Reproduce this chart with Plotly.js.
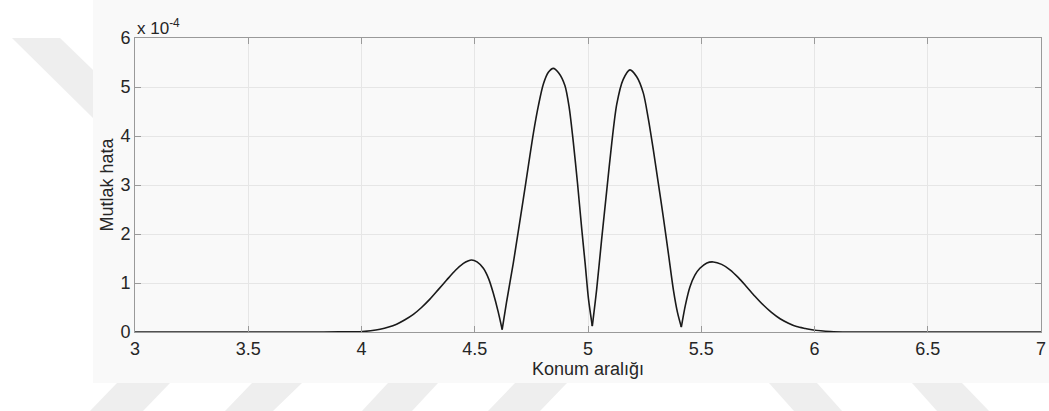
<!DOCTYPE html>
<html>
<head>
<meta charset="utf-8">
<script src="https://cdn.plot.ly/plotly-3.0.1.min.js"></script>
<style>html,body{margin:0;padding:0;background:#fff;}#chart{width:1049px;height:411px;}</style>
</head>
<body>
<div id="chart"></div>
<script>
// Data (x: position, y: absolute error in units of 1e-4)
var xPos = [3.0, 3.5, 3.8, 3.9, 3.993, 4.04, 4.082, 4.12, 4.155, 4.19, 4.229, 4.265, 4.302, 4.34, 4.376, 4.415, 4.45, 4.47, 4.486, 4.51, 4.538, 4.562, 4.582, 4.603, 4.621,
            4.64, 4.67, 4.692, 4.714, 4.737, 4.759, 4.781, 4.803, 4.825, 4.847, 4.87, 4.898, 4.917, 4.935, 4.954, 4.972, 4.988, 5.002, 5.019,
            5.038, 5.06, 5.083, 5.105, 5.127, 5.155, 5.185, 5.215, 5.244, 5.266, 5.288, 5.31, 5.332, 5.355, 5.377, 5.395, 5.412,
            5.43, 5.45, 5.472, 5.494, 5.525, 5.553, 5.59, 5.627, 5.664, 5.701, 5.737, 5.774, 5.81, 5.848, 5.885, 5.921, 5.96, 5.995, 6.07, 6.15, 6.5, 7.0];
var absErr = [0, 0, 0, 0.002, 0.006, 0.025, 0.055, 0.10, 0.16, 0.245, 0.36, 0.50, 0.67, 0.87, 1.06, 1.26, 1.40, 1.45, 1.47, 1.43, 1.30, 1.08, 0.79, 0.42, 0.05,
            0.60, 1.40, 2.05, 2.70, 3.40, 4.06, 4.62, 5.06, 5.30, 5.38, 5.29, 5.03, 4.58, 3.88, 3.02, 2.12, 1.37, 0.68, 0.12,
            0.86, 1.88, 2.90, 3.86, 4.65, 5.15, 5.35, 5.21, 4.88, 4.36, 3.73, 3.05, 2.36, 1.60, 0.86, 0.40, 0.10,
            0.55, 0.92, 1.16, 1.30, 1.41, 1.43, 1.38, 1.27, 1.11, 0.92, 0.73, 0.55, 0.40, 0.27, 0.18, 0.11, 0.07, 0.04, 0.01, 0, 0, 0];
// Positions of the sharp minima (where the curve is split into smooth lobes)
var minimaX = [4.621, 5.019, 5.412];
var scale = 1e-4;
var yTickVals = [0, 1, 2, 3, 4, 5, 6];
var yTickText = ['0', '1', '2', '3', '4', '5', '6'];
var xTickVals = [3, 3.5, 4, 4.5, 5, 5.5, 6, 6.5, 7];
var xTickText = ['3', '3.5', '4', '4.5', '5', '5.5', '6', '6.5', '7'];

// Layout geometry (pixels)
var W = 1049, H = 411, ML = 135, MR = 8, MT = 38, MB = 79;
var PW = W - ML - MR, PH = H - MT - MB;
function px(x) { return (x - ML) / PW; }
function py(y) { return (H - MB - y) / PH; }
function poly(pts) {
  return 'M' + pts.map(function (p) { return px(p[0]) + ',' + py(p[1]); }).join(' L') + ' Z';
}
// Decorative watermark bands around the figure (pixel corner points)
var bands = [
  [[12, 38], [60, 38], [93, 70], [93, 118]],
  [[117, 383], [170, 383], [143, 411], [90, 411]],
  [[252, 383], [302, 383], [273, 411], [225, 411]],
  [[388, 383], [438, 383], [412, 411], [362, 411]],
  [[515, 383], [567, 383], [540, 411], [488, 411]],
  [[769, 383], [817, 383], [842, 411], [794, 411]],
  [[912, 383], [962, 383], [989, 411], [937, 411]]
];
var shapes = bands.map(function (b) {
  return { type: 'path', xref: 'paper', yref: 'paper', path: poly(b), fillcolor: '#eeeeee', line: { width: 0 }, layer: 'below' };
});
shapes.unshift({ type: 'rect', xref: 'paper', yref: 'paper', x0: px(93), x1: px(1049), y0: py(383), y1: py(0), fillcolor: '#f9f9f9', line: { width: 0 }, layer: 'below' });

// Split the series into lobes at the minima so each lobe is smooth but the minima stay sharp
var traces = [];
var cur = { x: [], y: [] };
for (var i = 0; i < xPos.length; i++) {
  cur.x.push(xPos[i]);
  cur.y.push(absErr[i] * scale);
  if (minimaX.indexOf(xPos[i]) >= 0) {
    traces.push(cur);
    cur = { x: [xPos[i]], y: [absErr[i] * scale] };
  }
}
traces.push(cur);
traces = traces.map(function (t) {
  return {
    x: t.x, y: t.y, type: 'scatter', mode: 'lines',
    line: { color: '#1a1a1a', width: 1.6, shape: 'spline', smoothing: 0.8 },
    hoverinfo: 'skip'
  };
});

var fontFam = '"Liberation Sans", Arial, Helvetica, sans-serif';
var fs = 18;
var layout = {
  width: W, height: H,
  margin: { l: ML, r: MR, t: MT, b: MB, pad: 0 },
  paper_bgcolor: '#ffffff',
  plot_bgcolor: '#ffffff',
  showlegend: false,
  font: { family: fontFam, size: fs, color: '#262626' },
  shapes: shapes,
  xaxis: {
    range: [3, 7], tickmode: 'array', tickvals: xTickVals, ticktext: xTickText,
    showgrid: true, gridcolor: '#e6e6e6', gridwidth: 1, zeroline: false,
    showline: true, linecolor: '#9a9a9a', linewidth: 1, mirror: 'ticks',
    ticks: 'inside', ticklen: 6, tickcolor: '#9a9a9a',
    tickfont: { family: fontFam, size: fs, color: '#262626' },
    title: { text: 'Konum aralığı', font: { family: fontFam, size: fs, color: '#262626' }, standoff: 0 },
    automargin: false, fixedrange: true
  },
  yaxis: {
    range: [0, 6 * scale], tickmode: 'array', tickvals: yTickVals.map(function (v) { return v * scale; }), ticktext: yTickText,
    showgrid: true, gridcolor: '#e6e6e6', gridwidth: 1, zeroline: false,
    showline: true, linecolor: '#9a9a9a', linewidth: 1, mirror: 'ticks',
    ticks: 'inside', ticklen: 6, tickcolor: '#9a9a9a',
    tickfont: { family: fontFam, size: fs, color: '#262626' },
    title: { text: 'Mutlak hata', font: { family: fontFam, size: fs, color: '#262626' }, standoff: 2 },
    automargin: false, fixedrange: true
  },
  annotations: [{
    xref: 'paper', yref: 'paper', x: 0, y: 1, xanchor: 'left', yanchor: 'bottom', yshift: -2, xshift: 0,
    text: 'x 10<sup>-4</sup>', showarrow: false,
    font: { family: fontFam, size: 17, color: '#262626' }
  }]
};

Plotly.newPlot('chart', traces, layout, { staticPlot: true, displayModeBar: false });
</script>
</body>
</html>
